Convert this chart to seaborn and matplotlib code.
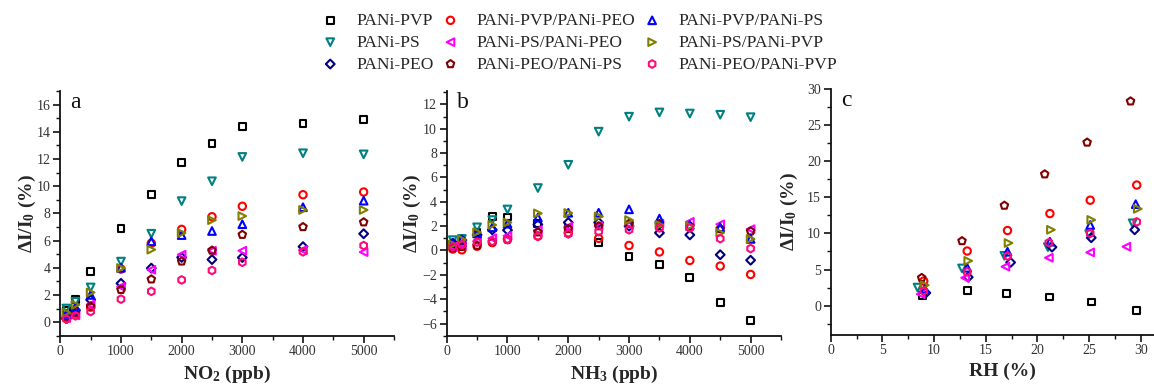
import numpy as np
import matplotlib
matplotlib.use("Agg")
import matplotlib.pyplot as plt
from matplotlib.ticker import MultipleLocator
import seaborn as sns

# ---------------- data ----------------
labels = ["PANi-PVP", "PANi-PS", "PANi-PEO",
          "PANi-PVP/PANi-PEO", "PANi-PS/PANi-PEO", "PANi-PEO/PANi-PS",
          "PANi-PVP/PANi-PS", "PANi-PS/PANi-PVP", "PANi-PEO/PANi-PVP"]

# panel a: NO2
a_x = [100, 250, 500, 1000, 1500, 2000, 2500, 3000, 4000, 5000]
a_pvp = [0.85, 1.66, 3.7, 6.86, 9.37, 11.73, 13.13, 14.4, 14.6, 14.92]
a_ps = [1.0, 1.5, 2.55, 4.45, 6.5, 8.9, 10.36, 12.15, 12.42, 12.34]
a_peo = [0.25, 0.88, 1.64, 2.85, 3.97, 4.76, 4.6, 4.75, 5.55, 6.5]
a_pvp_peo = [0.35, 0.65, 1.1, 3.9, 5.8, 6.82, 7.75, 8.52, 9.37, 9.57]
a_ps_peo = [0.3, 0.5, 1.3, 2.6, 3.85, 4.96, 5.25, 5.25, 5.3, 5.15]
a_peo_ps = [0.4, 0.7, 1.15, 2.38, 3.15, 4.47, 5.27, 6.43, 7.0, 7.35]
a_pvp_ps = [0.6, 1.1, 2.0, 4.0, 5.94, 6.4, 6.7, 7.2, 8.45, 8.93]
a_ps_pvp = [0.7, 1.27, 2.18, 3.98, 5.33, 6.55, 7.5, 7.8, 8.25, 8.25]
a_peo_pvp = [0.22, 0.46, 0.78, 1.69, 2.26, 3.1, 3.8, 4.4, 5.17, 5.63]

# panel b: NH3
b_x = [100, 250, 500, 750, 1000, 1500, 2000, 2500, 3000, 3500, 4000, 4500, 5000]
b_pvp = [0.4, 0.5, 1.5, 2.78, 2.75, 2.2, 1.8, 0.63, -0.52, -1.15, -2.24, -4.28, -5.73]
b_ps = [0.85, 0.95, 1.9, 2.5, 3.37, 5.13, 7.04, 9.76, 10.99, 11.34, 11.25, 11.15, 10.95]
b_peo = [0.6, 0.85, 1.28, 1.7, 1.67, 2.13, 2.3, 2.3, 2.0, 1.45, 1.28, -0.35, -0.8]
b_pvp_peo = [0.12, 0.05, 0.35, 0.65, 0.9, 1.2, 1.45, 1.0, 0.41, -0.12, -0.82, -1.28, -1.97]
b_ps_peo = [0.3, 0.45, 0.75, 1.0, 1.2, 1.67, 1.95, 2.0, 2.1, 2.2, 2.35, 2.15, 1.75]
b_peo_ps = [0.2, 0.3, 0.4, 0.7, 0.9, 1.5, 1.77, 2.0, 2.2, 2.2, 2.0, 1.77, 1.58]
b_pvp_ps = [0.6, 0.9, 1.4, 1.9, 2.2, 2.7, 3.1, 3.1, 3.38, 2.62, 2.1, 1.9, 0.95]
b_ps_pvp = [0.5, 0.9, 1.5, 2.1, 2.3, 3.05, 3.08, 2.8, 2.5, 2.1, 2.0, 1.45, 0.95]
b_peo_pvp = [0.3, 0.48, 0.68, 0.75, 0.9, 1.15, 1.36, 1.55, 1.7, 1.85, 1.85, 0.97, 0.16]

# panel c: RH
c_x_pvp = [8.9, 13.2, 17.0, 21.2, 25.2, 29.6]
c_pvp = [1.4, 2.04, 1.7, 1.2, 0.5, -0.7]
c_x_ps = [8.4, 12.7, 16.8, 21.0, 25.0, 29.2]
c_ps = [2.5, 5.15, 6.9, 8.1, 9.9, 11.4]
c_x_peo = [9.2, 13.3, 17.4, 21.4, 25.2, 29.4]
c_peo = [1.76, 3.94, 5.98, 8.1, 9.4, 10.5]
c_x_pvp_peo = [9.0, 13.2, 17.1, 21.2, 25.1, 29.6]
c_pvp_peo = [3.4, 7.56, 10.4, 12.75, 14.6, 16.7]
c_x_ps_peo = [8.7, 13.0, 16.9, 21.1, 25.1, 28.6]
c_ps_peo = [1.6, 3.85, 5.4, 6.63, 7.37, 8.16]
c_x_peo_ps = [8.8, 12.7, 16.8, 20.7, 24.8, 29.0]
c_peo_ps = [3.85, 8.95, 13.86, 18.2, 22.6, 28.3]
c_x_pvp_ps = [9.1, 13.2, 17.1, 21.2, 25.1, 29.5]
c_pvp_ps = [2.3, 5.24, 7.46, 8.85, 11.17, 14.05]
c_x_ps_pvp = [9.1, 13.3, 17.2, 21.3, 25.2, 29.7]
c_ps_pvp = [2.83, 6.2, 8.67, 10.5, 11.87, 13.4]
c_x_peo_pvp = [9.0, 13.2, 17.1, 21.1, 25.1, 29.6]
c_peo_pvp = [2.04, 4.68, 6.86, 8.72, 10.0, 11.6]

a_y = [a_pvp, a_ps, a_peo, a_pvp_peo, a_ps_peo, a_peo_ps, a_pvp_ps, a_ps_pvp, a_peo_pvp]
b_y = [b_pvp, b_ps, b_peo, b_pvp_peo, b_ps_peo, b_peo_ps, b_pvp_ps, b_ps_pvp, b_peo_pvp]
c_xs = [c_x_pvp, c_x_ps, c_x_peo, c_x_pvp_peo, c_x_ps_peo, c_x_peo_ps, c_x_pvp_ps, c_x_ps_pvp, c_x_peo_pvp]
c_y = [c_pvp, c_ps, c_peo, c_pvp_peo, c_ps_peo, c_peo_ps, c_pvp_ps, c_ps_pvp, c_peo_pvp]

# ---------------- styles ----------------
colors = ["#000000", "#008080", "#000080", "#FF0000", "#FF00FF",
          "#800000", "#0000FF", "#808000", "#FF0A78"]
markers = ["s", "v", "D", "o", "<", "p", "^", ">", "h"]
sizes = [24, 30, 20, 28, 30, 32, 30, 30, 30]

sns.set_theme(style="ticks")
plt.rcParams["font.family"] = ["Liberation Serif", "DejaVu Serif"]
plt.rcParams["mathtext.fontset"] = "custom"
plt.rcParams["mathtext.rm"] = "Liberation Serif"
plt.rcParams["mathtext.bf"] = "Liberation Serif:bold"
plt.rcParams["mathtext.it"] = "Liberation Serif:italic"

fig = plt.figure(figsize=(11.54, 3.87), dpi=100)
H = 387.0
W = 1154.0


def make_ax(left, right, bottom, top):
    return fig.add_axes([left / W, (H - bottom) / H, (right - left) / W, (bottom - top) / H])


ax_a = make_ax(60.3, 394, 335.7, 91)
ax_b = make_ax(446.7, 781, 335.7, 91)
ax_c = make_ax(830.7, 1175, 334.5, 89)


def draw(ax, xs_list, ys_list):
    for i in range(9):
        sns.scatterplot(x=xs_list[i], y=ys_list[i], ax=ax, marker=markers[i],
                        s=sizes[i], color="none", edgecolor=colors[i],
                        linewidth=1.5, label=labels[i], legend=False, zorder=3 + i)


draw(ax_a, [a_x] * 9, a_y)
draw(ax_b, [b_x] * 9, b_y)
draw(ax_c, c_xs, c_y)

ylab = r"$\mathbf{\Delta I/I_0}$ (%)"
ax_a.set_xlim(0, 5500)
ax_a.set_ylim(-1, 17)
ax_a.xaxis.set_major_locator(MultipleLocator(1000))
ax_a.xaxis.set_minor_locator(MultipleLocator(500))
ax_a.yaxis.set_major_locator(MultipleLocator(2))
ax_a.yaxis.set_minor_locator(MultipleLocator(1))
ax_a.set_xlabel(r"$\mathbf{NO_2}$ (ppb)", fontsize=14, fontweight="bold", labelpad=4)
ax_a.set_ylabel(ylab, fontsize=14, fontweight="bold", labelpad=-1)

ax_b.set_xlim(0, 5500)
ax_b.set_ylim(-7, 13.1)
ax_b.xaxis.set_major_locator(MultipleLocator(1000))
ax_b.xaxis.set_minor_locator(MultipleLocator(500))
ax_b.yaxis.set_major_locator(MultipleLocator(2))
ax_b.yaxis.set_minor_locator(MultipleLocator(1))
ax_b.set_xlabel(r"$\mathbf{NH_3}$ (ppb)", fontsize=14, fontweight="bold", labelpad=4)
ax_b.set_ylabel(ylab, fontsize=14, fontweight="bold", labelpad=-1)

ax_c.set_xlim(0, 33.3)
ax_c.set_ylim(-4, 30)
ax_c.xaxis.set_major_locator(MultipleLocator(5))
ax_c.xaxis.set_minor_locator(MultipleLocator(2.5))
ax_c.yaxis.set_major_locator(MultipleLocator(5))
ax_c.yaxis.set_minor_locator(MultipleLocator(2.5))
ax_c.set_xlabel("RH (%)", fontsize=14, fontweight="bold", labelpad=4)
ax_c.set_ylabel(ylab, fontsize=14, fontweight="bold", labelpad=5)

for ax, letter in zip([ax_a, ax_b, ax_c], ["a", "b", "c"]):
    sns.despine(ax=ax)
    for sp in ["left", "bottom"]:
        ax.spines[sp].set_linewidth(1.3)
        ax.spines[sp].set_color("#111111")
    ax.tick_params(which="major", direction="out", length=5, width=1.2,
                   labelsize=10, colors="#111111", labelcolor="#333333", pad=2)
    ax.tick_params(which="minor", direction="out", length=3, width=1.0, colors="#111111")
    ax.text(0.03, 0.955, letter, transform=ax.transAxes, fontsize=17,
            ha="left", va="center", color="#111111")

handles, labs = ax_a.get_legend_handles_labels()
fig.legend(handles, labs, loc="upper center", bbox_to_anchor=(0.502, 1.008),
           ncol=3, frameon=False, fontsize=12.6, handlelength=1.0,
           handletextpad=1.0, columnspacing=0.45, labelspacing=0.32,
           scatterpoints=1)

fig.savefig("out.png", dpi=100)
